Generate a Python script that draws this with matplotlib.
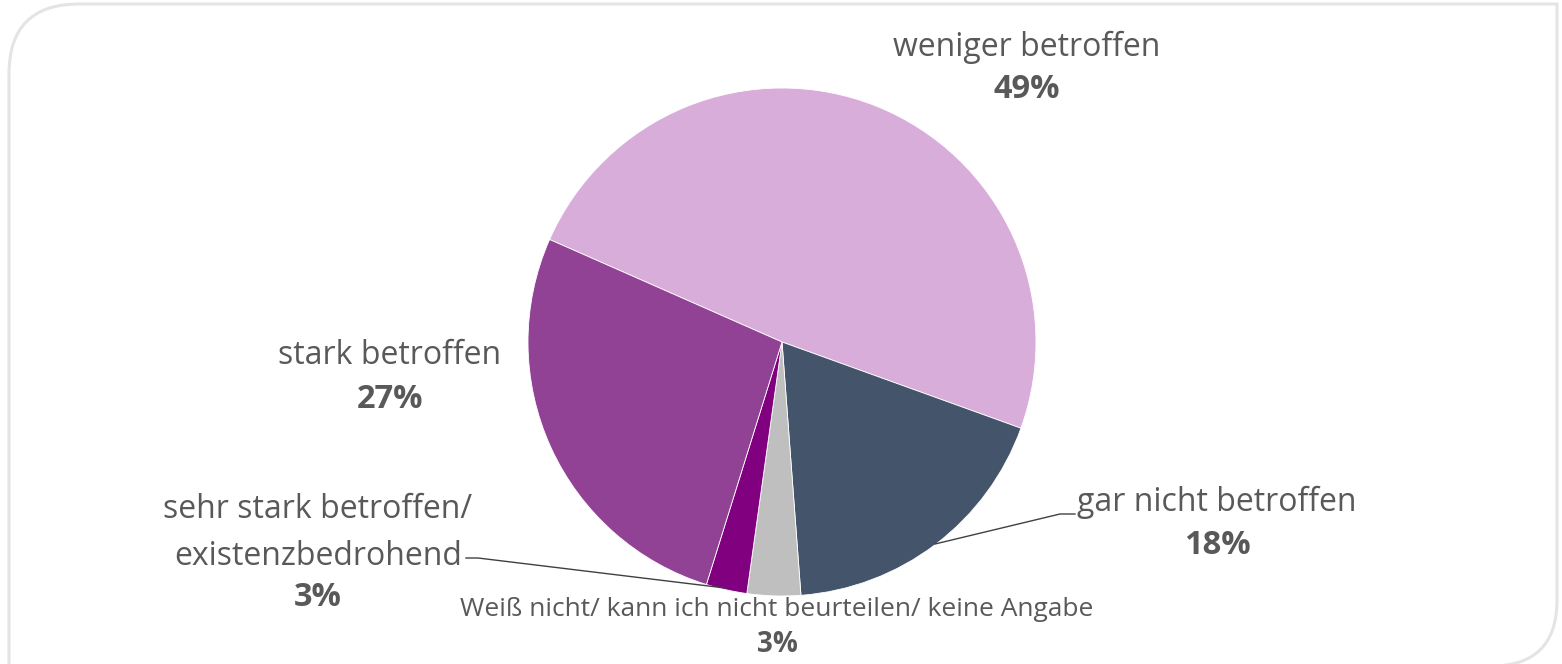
import matplotlib
matplotlib.use("Agg")
from matplotlib import pyplot as plt
from matplotlib.path import Path
from matplotlib.patches import PathPatch

# slices, clockwise from the top-left edge
labels = ["weniger betroffen", "gar nicht betroffen",
          "Weiß nicht/ kann ich nicht beurteilen/ keine Angabe",
          "sehr stark betroffen/\nexistenzbedrohend", "stark betroffen"]
values = [48.9, 18.3, 3.4, 2.6, 26.8]
pct_text = ["49%", "18%", "3%", "3%", "27%"]
colors = ["#D9ADDA", "#44546A", "#BFBFBF", "#800080", "#914294"]

W, H = 1562, 664
plt.rcParams['font.family'] = ['Open Sans', 'DejaVu Sans']
fig = plt.figure(figsize=(W / 100, H / 100), dpi=100)
ax = fig.add_axes([0, 0, 1, 1])


def fy(y):  # image row -> data y
    return H - y


# rounded frame (top-left and bottom-right corners rounded)
verts = [(9, fy(668)), (9, fy(74)), (9, fy(4)), (79, fy(4)), (1557, fy(4)),
         (1557, fy(600)), (1557, fy(666)), (1491, fy(666)), (9, fy(666))]
codes = [Path.MOVETO, Path.LINETO, Path.CURVE3, Path.CURVE3, Path.LINETO,
         Path.LINETO, Path.CURVE3, Path.CURVE3, Path.LINETO]
ax.add_patch(PathPatch(Path(verts, codes), facecolor="none",
                       edgecolor="#E4E4E4", lw=2.2, zorder=0))

ax.pie(values, colors=colors, startangle=156.2, counterclock=False,
       center=(782, fy(342)), radius=254, frame=True,
       wedgeprops=dict(edgecolor="white", linewidth=0.6))
ax.set_xlim(0, W)
ax.set_ylim(0, H)
ax.set_aspect("equal")
ax.axis("off")

tc = "#595959"
fs = 23
pfs = 23.5
# label positions: (x, name y, pct y)
pos = [(1027, 47, 90), (1217, 502, 546), (777, 610, 645), (318, 533, 598), (390, 356, 400)]
for i in range(len(labels)):
    x, yn, yp = pos[i]
    ax.text(x, fy(yn), labels[i], ha="center", va="center", color=tc,
            fontsize=19 if i == 2 else fs, linespacing=1.55)
    ax.text(x, fy(yp), pct_text[i], ha="center", va="center", color=tc,
            fontsize=20 if i == 2 else pfs, fontweight="bold")

# leader lines
ax.plot([1075, 1060, 935], [fy(514), fy(514), fy(544)], color="#404040", lw=1)
ax.plot([466, 478, 725], [fy(558), fy(558), fy(588)], color="#404040", lw=1)

fig.savefig("out.png", dpi=100, facecolor="white")
